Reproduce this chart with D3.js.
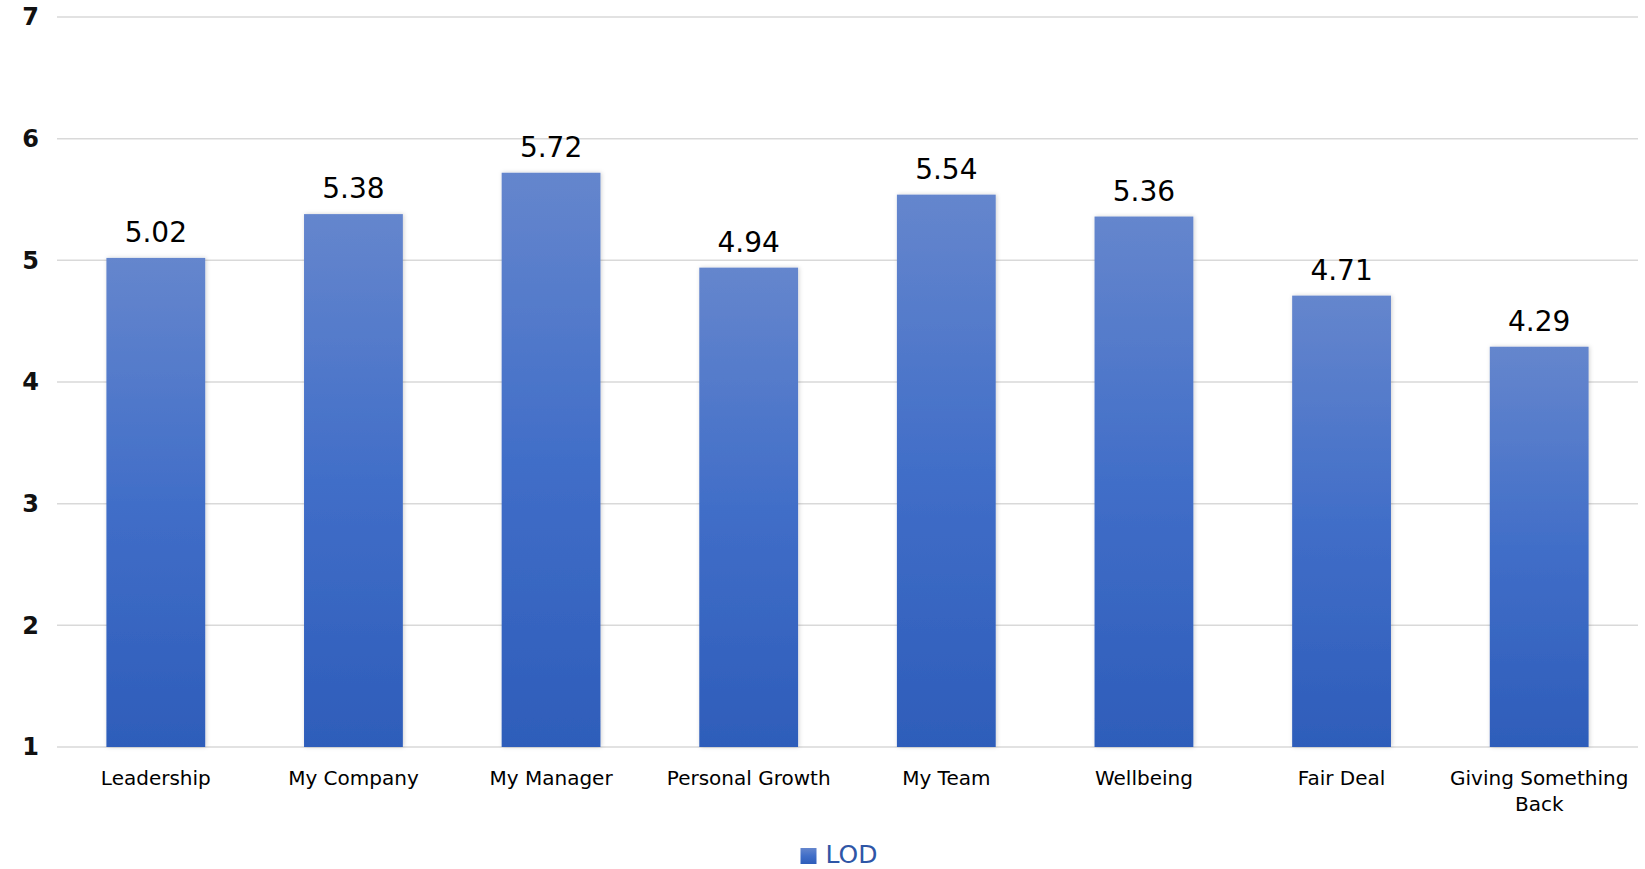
<!DOCTYPE html>
<html>
<head>
<meta charset="utf-8">
<script src="https://cdn.jsdelivr.net/npm/d3@7"></script>
<style>
  html, body { margin: 0; padding: 0; background: #fff; }
  text { font-family: "DejaVu Sans", sans-serif; }
</style>
</head>
<body>
<div id="chart"></div>
<script>
const width = 1645,
    height = 869;

const categories = ['Leadership', 'My Company', 'My Manager', 'Personal Growth', 'My Team', 'Wellbeing', 'Fair Deal', 'Giving Something Back'];
const values = [5.02, 5.38, 5.72, 4.94, 5.54, 5.36, 4.71, 4.29];
const yTicks = [1, 2, 3, 4, 5, 6, 7];
const seriesName = 'LOD';

const margin = {top: 17, right: 7, bottom: 122, left: 57};

const svg = d3.select('#chart')
    .append('svg')
    .attr('width', width)
    .attr('height', height);

const defs = svg.append('defs');

const grad = defs.append('linearGradient')
    .attr('id', 'barFill')
    .attr('x1', 0).attr('y1', 0)
    .attr('x2', 0).attr('y2', 1);
grad.append('stop').attr('offset', '0%').attr('stop-color', '#6586cd');
grad.append('stop').attr('offset', '50%').attr('stop-color', '#416ec8');
grad.append('stop').attr('offset', '100%').attr('stop-color', '#2e5dba');

const shadow = defs.append('filter')
    .attr('id', 'shadow')
    .attr('x', '-10%').attr('y', '-10%')
    .attr('width', '120%').attr('height', '120%');
shadow.append('feDropShadow')
    .attr('dx', 1).attr('dy', 0)
    .attr('stdDeviation', 2)
    .attr('flood-color', '#000')
    .attr('flood-opacity', 0.18);

const x = d3.scaleBand()
    .domain(categories)
    .range([margin.left, width - margin.right])
    .paddingInner(0.5)
    .paddingOuter(0.25);

const y = d3.scaleLinear()
    .domain([1, 7])
    .range([height - margin.bottom, margin.top]);

// gridlines
svg.append('g')
    .selectAll('line')
    .data(yTicks)
    .enter()
    .append('line')
    .attr('x1', margin.left)
    .attr('x2', width - margin.right)
    .attr('y1', d => y(d))
    .attr('y2', d => y(d))
    .attr('stroke', '#d9d9d9')
    .attr('stroke-width', 1.5);

// y axis labels
const yAxis = svg.append('g')
    .attr('transform', `translate(${margin.left},0)`)
    .call(d3.axisLeft(y).tickValues(yTicks).tickSize(0).tickPadding(18).tickFormat(d3.format('d')));
yAxis.select('.domain').remove();
yAxis.selectAll('text')
    .attr('font-family', '"DejaVu Sans", sans-serif')
    .attr('font-size', 24)
    .attr('font-weight', 'bold')
    .attr('fill', '#111');

// bars
svg.append('g')
    .selectAll('rect')
    .data(values)
    .enter()
    .append('rect')
    .attr('x', (d, i) => x(categories[i]))
    .attr('y', d => y(d))
    .attr('width', x.bandwidth())
    .attr('height', d => y(1) - y(d))
    .attr('fill', 'url(#barFill)')
    .attr('filter', 'url(#shadow)');

// value labels
svg.append('g')
    .selectAll('text')
    .data(values)
    .enter()
    .append('text')
    .attr('x', (d, i) => x(categories[i]) + x.bandwidth() / 2)
    .attr('y', d => y(d) - 16)
    .attr('text-anchor', 'middle')
    .attr('font-size', 28)
    .attr('fill', '#000')
    .text(d => d.toFixed(2));

// x axis labels (wrapped)
const xLabels = svg.append('g')
    .selectAll('text')
    .data(categories)
    .enter()
    .append('text')
    .attr('x', d => x(d) + x.bandwidth() / 2)
    .attr('y', height - margin.bottom + 38)
    .attr('text-anchor', 'middle')
    .attr('font-size', 20)
    .attr('fill', '#000');

xLabels.each(function(d) {
    const el = d3.select(this);
    const lines = d === 'Giving Something Back' ? ['Giving Something', 'Back'] : [d];
    lines.forEach((line, i) => {
        el.append('tspan')
            .attr('x', el.attr('x'))
            .attr('dy', i === 0 ? 0 : 26)
            .text(line);
    });
});

// legend
const legend = svg.append('g')
    .attr('transform', `translate(${width / 2},863)`);
legend.append('rect')
    .attr('x', -22)
    .attr('y', -15)
    .attr('width', 16)
    .attr('height', 16)
    .attr('fill', 'url(#barFill)');
legend.append('text')
    .attr('x', 3)
    .attr('y', 0)
    .attr('font-size', 25)
    .attr('fill', '#2f56a6')
    .text(seriesName);
</script>
</body>
</html>
